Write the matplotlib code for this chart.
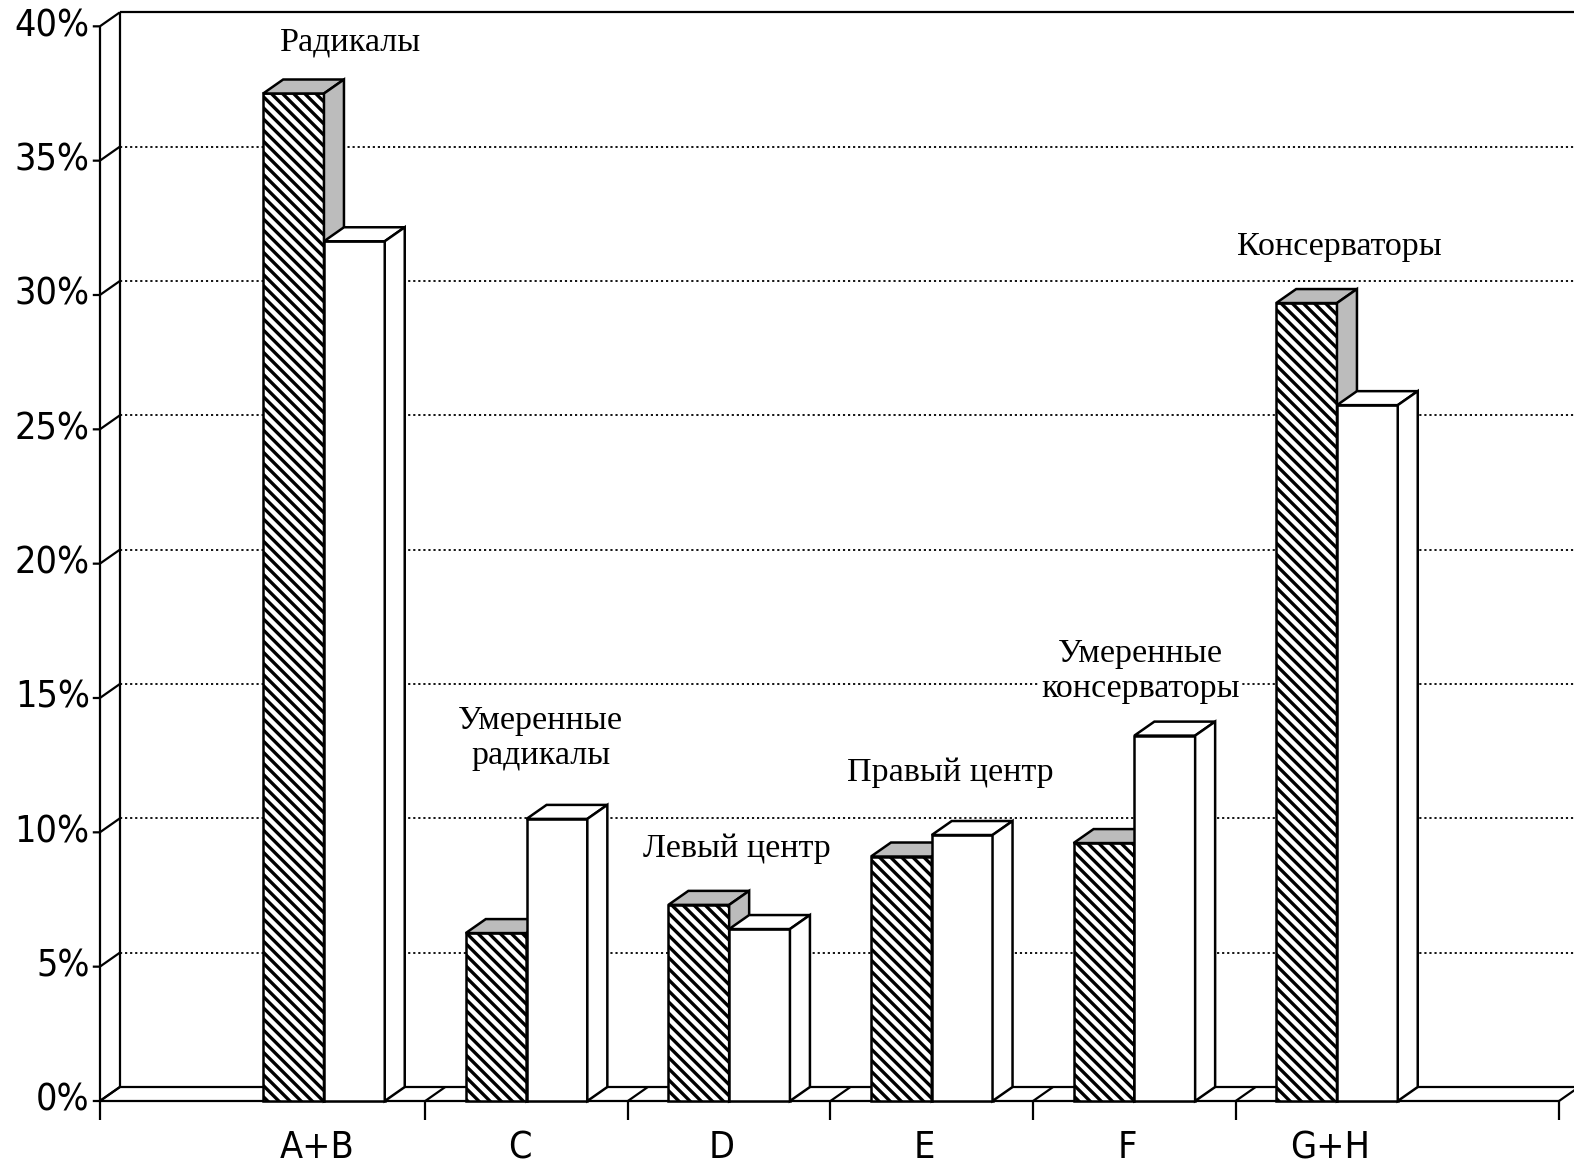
import matplotlib
matplotlib.use('Agg')
import matplotlib.pyplot as plt
from matplotlib.patches import Polygon, Rectangle

# ---- data ----
categories = ['A+B', 'C', 'D', 'E', 'F', 'G+H']
series_hatched = [37.5, 6.25, 7.3, 9.1, 9.6, 29.7]
series_white = [32.0, 10.5, 6.4, 9.9, 13.6, 25.9]
y_ticks = [0, 5, 10, 15, 20, 25, 30, 35, 40]
y_tick_labels = ['0%', '5%', '10%', '15%', '20%', '25%', '30%', '35%', '40%']
group_names = ['Радикалы', 'Умеренные\nрадикалы', 'Левый центр',
               'Правый центр', 'Умеренные\nконсерваторы', 'Консерваторы']
group_name_pos = [(0.13, 39.4), (1.07, 13.5), (2.04, 9.4),
                  (3.09, 12.2), (4.03, 16.0), (5.01, 31.8)]

plt.rcParams['hatch.linewidth'] = 2.4

fig = plt.figure(figsize=(15.74, 11.73), dpi=100)
ax = fig.add_axes([0, 0, 1, 1])
ax.set_xlim(-1.599, 6.170)
ax.set_ylim(-2.68, 40.98)
ax.axis('off')

DX = 20 / 202.6
DY = 14 / 26.87
BW = 0.30
X0 = -1.106          # front left axis
XR = 6.096           # front right end
XEDGE = 6.30
LW = 1.6
k = dict(color='black', lw=LW, solid_capstyle='butt', zorder=2)

# back wall
ax.plot([X0 + DX, X0 + DX], [DY, 40 + DY], **k)
ax.plot([X0 + DX, XEDGE], [40 + DY, 40 + DY], **k)
# gridlines on back wall
for t in y_ticks[1:-1]:
    ax.plot([X0 + DX, XEDGE], [t + DY, t + DY], color='black', lw=1.3,
            linestyle=(0, (1.2, 1.6)), zorder=1)
# floor
ax.plot([X0 + DX, XEDGE], [DY, DY], **k)
ax.plot([X0, XR], [0, 0], **k)
for b in [X0, 0.5, 1.5, 2.5, 3.5, 4.5, XR]:
    ax.plot([b, b + DX], [0, DY], **k)
for b in [0.5, 1.5, 2.5, 3.5, 4.5, XR]:
    ax.plot([b, b], [0, -0.72], **k)
# front axis
ax.plot([X0, X0], [-0.72, 40], **k)
for t, lab in zip(y_ticks, y_tick_labels):
    ax.plot([X0 - 0.035, X0, X0 + DX], [t, t, t + DY], **k)
    ax.text(X0 - 0.05, t, lab, ha='right', va='center', fontsize=27,
            family='DejaVu Sans', fontstretch='condensed')

def bar3d(xl, h, front_kw, top_color, z):
    xr = xl + BW
    ax.add_patch(Rectangle((xl, 0), BW, h, zorder=z, **front_kw))
    ax.add_patch(Polygon([(xl, h), (xr, h), (xr + DX, h + DY), (xl + DX, h + DY)],
                         closed=True, facecolor=top_color, edgecolor='black',
                         lw=1.8, zorder=z))
    ax.add_patch(Polygon([(xr, 0), (xr, h), (xr + DX, h + DY), (xr + DX, DY)],
                         closed=True, facecolor=top_color, edgecolor='black',
                         lw=1.8, zorder=z))

for i, (hh, hw) in enumerate(zip(series_hatched, series_white)):
    z = 3 + 2 * i
    bar3d(i - BW, hh, dict(facecolor='white', edgecolor='black', lw=1.8,
                          hatch='\\\\\\'), '#bcbcbc', z)
    bar3d(i, hw, dict(facecolor='white', edgecolor='black', lw=1.8),
          'white', z + 1)

for i, c in enumerate(categories):
    ax.text(i - 0.035, -1.75, c, ha='center', va='center', fontsize=27,
            family='DejaVu Sans', fontstretch='condensed')

for name, (x, y) in zip(group_names, group_name_pos):
    ax.text(x, y, name, ha='center', va='center', fontsize=24.5,
            family='Liberation Serif', linespacing=1.2, zorder=20,
            bbox=dict(facecolor='white', edgecolor='none', pad=1))

fig.savefig('out.png', dpi=100)
